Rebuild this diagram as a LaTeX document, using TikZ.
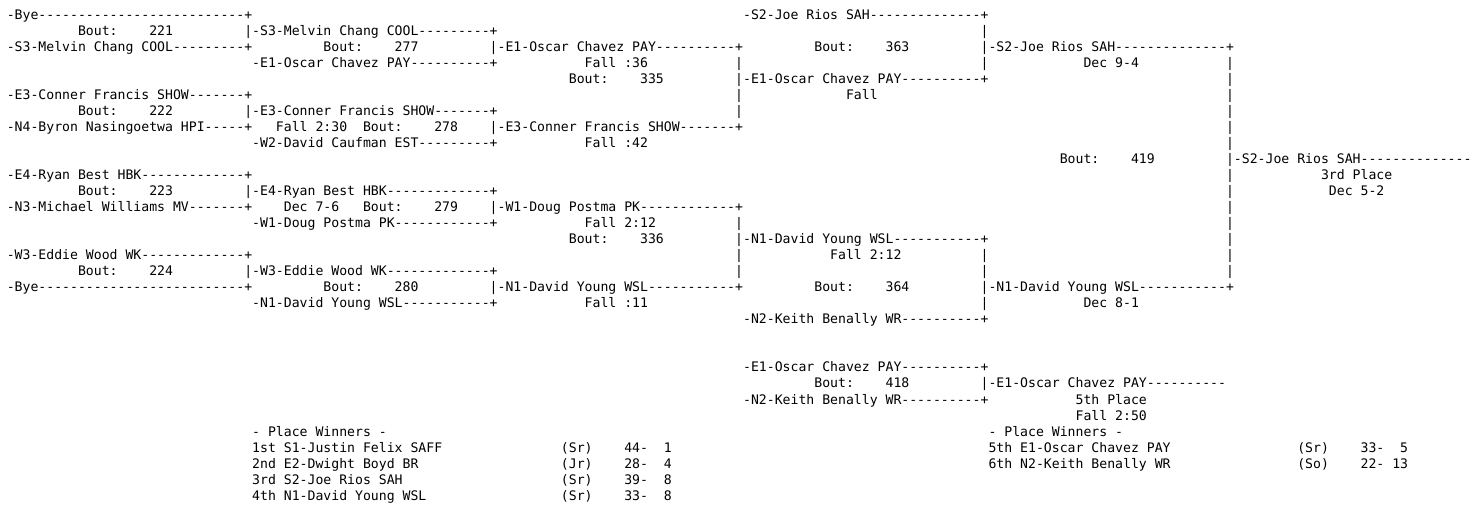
\documentclass[tikz,border=0pt]{standalone}
\usepackage{fontspec}
\setmonofont{DejaVu Sans Mono}
\ExplSyntaxOn
\cs_new:Npn \dashrep #1 { \prg_replicate:nn {#1} {-} }
\ExplSyntaxOff
\tikzset{cell/.style={anchor=base west,inner sep=0pt,outer sep=0pt,text=black,
  font=\ttfamily\fontsize{13.15pt}{16pt}\selectfont}}
\newcommand\tx[4]{\node[cell] (#1) at ({6.8+#2*7.917},{-19.3-#3*16.03}) {#4};}
\begin{document}
\begin{tikzpicture}[x=1pt,y=1pt]
\fill[white] (0,0) rectangle (1483,-510);
\useasboundingbox (0,0) rectangle (1483,-510);
% row 0
\tx{a0}{0}{0}{-Bye\dashrep{26}+}
\tx{b0}{93}{0}{-S2-Joe Rios SAH\dashrep{14}+}
% row 1
\tx{a1}{9}{1}{Bout:~~~~221}
\tx{b1}{30}{1}{|-S3-Melvin Chang COOL\dashrep{9}+}
\tx{c1}{123}{1}{|}
% row 2
\tx{a2}{0}{2}{-S3-Melvin Chang COOL\dashrep{9}+}
\tx{b2}{40}{2}{Bout:~~~~277}
\tx{c2}{61}{2}{|-E1-Oscar Chavez PAY\dashrep{10}+}
\tx{d2}{102}{2}{Bout:~~~~363}
\tx{e2}{123}{2}{|-S2-Joe Rios SAH\dashrep{14}+}
% row 3
\tx{a3}{31}{3}{-E1-Oscar Chavez PAY\dashrep{10}+}
\tx{b3}{73}{3}{Fall :36}
\tx{c3}{92}{3}{|}
\tx{d3}{123}{3}{|}
\tx{e3}{136}{3}{Dec 9-4}
\tx{f3}{154}{3}{|}
% row 4
\tx{a4}{71}{4}{Bout:~~~~335}
\tx{b4}{92}{4}{|-E1-Oscar Chavez PAY\dashrep{10}+}
\tx{c4}{154}{4}{|}
% row 5
\tx{a5}{0}{5}{-E3-Conner Francis SHOW\dashrep{7}+}
\tx{b5}{92}{5}{|}
\tx{c5}{106}{5}{Fall}
\tx{d5}{154}{5}{|}
% row 6
\tx{a6}{9}{6}{Bout:~~~~222}
\tx{b6}{30}{6}{|-E3-Conner Francis SHOW\dashrep{7}+}
\tx{c6}{92}{6}{|}
\tx{d6}{154}{6}{|}
% row 7
\tx{a7}{0}{7}{-N4-Byron Nasingoetwa HPI\dashrep{5}+}
\tx{b7}{34}{7}{Fall 2:30}
\tx{c7}{45}{7}{Bout:~~~~278}
\tx{d7}{61}{7}{|-E3-Conner Francis SHOW\dashrep{7}+}
\tx{e7}{154}{7}{|}
% row 8
\tx{a8}{31}{8}{-W2-David Caufman EST\dashrep{9}+}
\tx{b8}{73}{8}{Fall :42}
\tx{c8}{154}{8}{|}
% row 9
\tx{a9}{133}{9}{Bout:~~~~419}
\tx{b9}{154}{9}{|-S2-Joe Rios SAH\dashrep{14}}
% row 10
\tx{a10}{0}{10}{-E4-Ryan Best HBK\dashrep{13}+}
\tx{b10}{154}{10}{|}
\tx{c10}{166}{10}{3rd Place}
% row 11
\tx{a11}{9}{11}{Bout:~~~~223}
\tx{b11}{30}{11}{|-E4-Ryan Best HBK\dashrep{13}+}
\tx{c11}{154}{11}{|}
\tx{d11}{167}{11}{Dec 5-2}
% row 12
\tx{a12}{0}{12}{-N3-Michael Williams MV\dashrep{7}+}
\tx{b12}{35}{12}{Dec 7-6}
\tx{c12}{45}{12}{Bout:~~~~279}
\tx{d12}{61}{12}{|-W1-Doug Postma PK\dashrep{12}+}
\tx{e12}{154}{12}{|}
% row 13
\tx{a13}{31}{13}{-W1-Doug Postma PK\dashrep{12}+}
\tx{b13}{73}{13}{Fall 2:12}
\tx{c13}{92}{13}{|}
\tx{d13}{154}{13}{|}
% row 14
\tx{a14}{71}{14}{Bout:~~~~336}
\tx{b14}{92}{14}{|-N1-David Young WSL\dashrep{11}+}
\tx{c14}{154}{14}{|}
% row 15
\tx{a15}{0}{15}{-W3-Eddie Wood WK\dashrep{13}+}
\tx{b15}{92}{15}{|}
\tx{c15}{104}{15}{Fall 2:12}
\tx{d15}{123}{15}{|}
\tx{e15}{154}{15}{|}
% row 16
\tx{a16}{9}{16}{Bout:~~~~224}
\tx{b16}{30}{16}{|-W3-Eddie Wood WK\dashrep{13}+}
\tx{c16}{92}{16}{|}
\tx{d16}{123}{16}{|}
\tx{e16}{154}{16}{|}
% row 17
\tx{a17}{0}{17}{-Bye\dashrep{26}+}
\tx{b17}{40}{17}{Bout:~~~~280}
\tx{c17}{61}{17}{|-N1-David Young WSL\dashrep{11}+}
\tx{d17}{102}{17}{Bout:~~~~364}
\tx{e17}{123}{17}{|-N1-David Young WSL\dashrep{11}+}
% row 18
\tx{a18}{31}{18}{-N1-David Young WSL\dashrep{11}+}
\tx{b18}{73}{18}{Fall :11}
\tx{c18}{123}{18}{|}
\tx{d18}{136}{18}{Dec 8-1}
% row 19
\tx{a19}{93}{19}{-N2-Keith Benally WR\dashrep{10}+}
% row 22
\tx{a22}{93}{22}{-E1-Oscar Chavez PAY\dashrep{10}+}
% row 23
\tx{a23}{102}{23}{Bout:~~~~418}
\tx{b23}{123}{23}{|-E1-Oscar Chavez PAY\dashrep{10}}
% row 24
\tx{a24}{93}{24}{-N2-Keith Benally WR\dashrep{10}+}
\tx{b24}{135}{24}{5th Place}
% row 25
\tx{a25}{135}{25}{Fall 2:50}
% row 26
\tx{a26}{31}{26}{- Place Winners -}
\tx{b26}{124}{26}{- Place Winners -}
% row 27
\tx{a27}{31}{27}{1st S1-Justin Felix SAFF}
\tx{b27}{70}{27}{(Sr)~~~~44-~~1}
\tx{c27}{124}{27}{5th E1-Oscar Chavez PAY}
\tx{d27}{163}{27}{(Sr)~~~~33-~~5}
% row 28
\tx{a28}{31}{28}{2nd E2-Dwight Boyd BR}
\tx{b28}{70}{28}{(Jr)~~~~28-~~4}
\tx{c28}{124}{28}{6th N2-Keith Benally WR}
\tx{d28}{163}{28}{(So)~~~~22-~13}
% row 29
\tx{a29}{31}{29}{3rd S2-Joe Rios SAH}
\tx{b29}{70}{29}{(Sr)~~~~39-~~8}
% row 30
\tx{a30}{31}{30}{4th N1-David Young WSL}
\tx{b30}{70}{30}{(Sr)~~~~33-~~8}
\end{tikzpicture}
\end{document}
